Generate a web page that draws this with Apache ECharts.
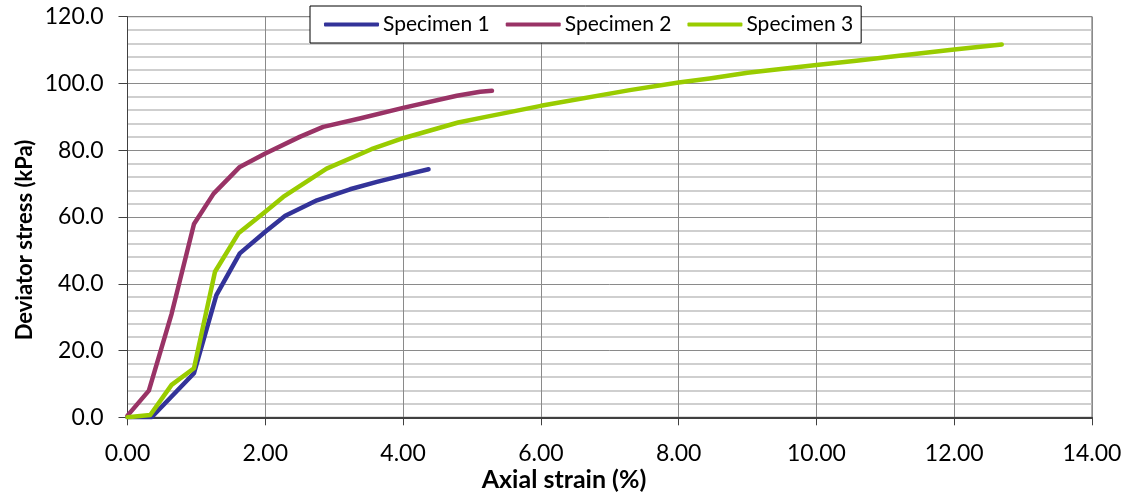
<!DOCTYPE html>
<html>
<head>
<meta charset="utf-8">
<script src="https://cdn.jsdelivr.net/npm/echarts@6/dist/echarts.min.js"></script>
<style>
  html, body { margin: 0; padding: 0; background: #fff; }
  #chart { width: 1134px; height: 495px; }
</style>
</head>
<body>
<div id="chart"></div>
<script>
// Triaxial test results: deviator stress against axial strain for three specimens
const seriesNames = ['Specimen 1', 'Specimen 2', 'Specimen 3'];

const strain1 = [0, 0.35, 0.965, 1.29, 1.63, 2.0, 2.29, 2.75, 3.23, 3.62, 3.91, 4.15, 4.37];
const stress1 = [0, 0, 13.2, 36.6, 49.1, 55.6, 60.4, 65.0, 68.3, 70.5, 72.0, 73.2, 74.3];

const strain2 = [0, 0.31, 0.64, 0.965, 1.25, 1.63, 2.0, 2.5, 2.84, 3.37, 4.0, 4.78, 5.12, 5.29];
const stress2 = [0.5, 8.0, 31.0, 57.9, 67.0, 75.0, 79.0, 84.0, 87.0, 89.5, 92.7, 96.3, 97.5, 97.8];

const strain3 = [0, 0.33, 0.64, 0.965, 1.27, 1.61, 2.0, 2.26, 2.89, 3.54, 4.0, 4.8, 5.2, 6.0, 7.29, 8.0, 8.45, 9.0, 10.0, 10.58, 11.2, 12.0, 12.69];
const stress3 = [0, 0.7, 9.7, 14.7, 43.6, 55.1, 61.6, 66.0, 74.5, 80.3, 83.6, 88.3, 90.0, 93.3, 98.0, 100.3, 101.5, 103.2, 105.5, 106.8, 108.3, 110.2, 111.7];

const seriesColors = ['#333399', '#993366', '#99cc00'];

const xTicks = { min: 0, max: 14, interval: 2 };
const yTicks = { min: 0, max: 120, interval: 20 };

const pairs = (xs, ys) => xs.map((x, i) => [x, ys[i]]);
const curves = [pairs(strain1, stress1), pairs(strain2, stress2), pairs(strain3, stress3)];

const FONT = 'Lato, "Noto Sans", sans-serif';

const chart = echarts.init(document.getElementById('chart'), null, { renderer: 'canvas' });

chart.setOption({
  animation: false,
  backgroundColor: '#ffffff',
  textStyle: { fontFamily: FONT },
  grid: {
    left: 127.5, right: 42, top: 16.7, bottom: 77.7,
    show: true, borderColor: '#606060', borderWidth: 1, backgroundColor: 'transparent'
  },
  legend: {
    data: seriesNames,
    left: 310, top: 6,
    padding: [8, 8, 8, 14],
    itemGap: 16,
    itemWidth: 55, itemHeight: 4,
    icon: 'roundRect',
    borderColor: '#000', borderWidth: 1,
    backgroundColor: '#fff',
    textStyle: { fontFamily: FONT, fontSize: 21, color: '#000', padding: [0, 0, 0, -1] }
  },
  xAxis: {
    type: 'value',
    min: xTicks.min, max: xTicks.max, interval: xTicks.interval,
    axisLine: { show: true, onZero: false, lineStyle: { color: '#404040', width: 2 } },
    axisTick: { show: true, length: 8, lineStyle: { color: '#404040', width: 1 } },
    axisLabel: {
      margin: 25, fontSize: 23, color: '#000', fontFamily: FONT,
      formatter: v => v.toFixed(2)
    },
    splitLine: { show: true, lineStyle: { color: '#8a8a8a', width: 1 } }
  },
  yAxis: {
    type: 'value',
    min: yTicks.min, max: yTicks.max, interval: yTicks.interval,
    axisLine: { show: true, onZero: false, lineStyle: { color: '#404040', width: 1 } },
    axisTick: { show: true, length: 9, lineStyle: { color: '#404040', width: 1 } },
    minorTick: { show: false, splitNumber: 5 },
    axisLabel: {
      margin: 24, fontSize: 23, color: '#000', fontFamily: FONT,
      formatter: v => v.toFixed(1)
    },
    splitLine: { show: true, lineStyle: { color: '#8a8a8a', width: 1 } },
    minorSplitLine: { show: true, lineStyle: { color: '#c0c0c0', width: 1.5 } }
  },
  graphic: [
    {
      type: 'text', x: 0, y: 0,
      style: {
        text: 'Axial strain (%)', x: 564, y: 480,
        textAlign: 'center', textVerticalAlign: 'middle',
        font: 'bold 25px ' + FONT, fill: '#000'
      }
    },
    {
      type: 'text', x: 25, y: 240, rotation: Math.PI / 2,
      style: {
        text: 'Deviator stress (kPa)', x: 0, y: 0,
        textAlign: 'center', textVerticalAlign: 'middle',
        font: 'bold 22px ' + FONT, fill: '#000'
      }
    }
  ],
  series: curves.map((data, i) => ({
    name: seriesNames[i],
    type: 'line',
    data: data,
    showSymbol: false,
    symbol: 'none',
    smooth: false,
    color: seriesColors[i],
    lineStyle: { color: seriesColors[i], width: 4.5, cap: 'round', join: 'round' },
    z: 3 + i
  }))
});
</script>
</body>
</html>
